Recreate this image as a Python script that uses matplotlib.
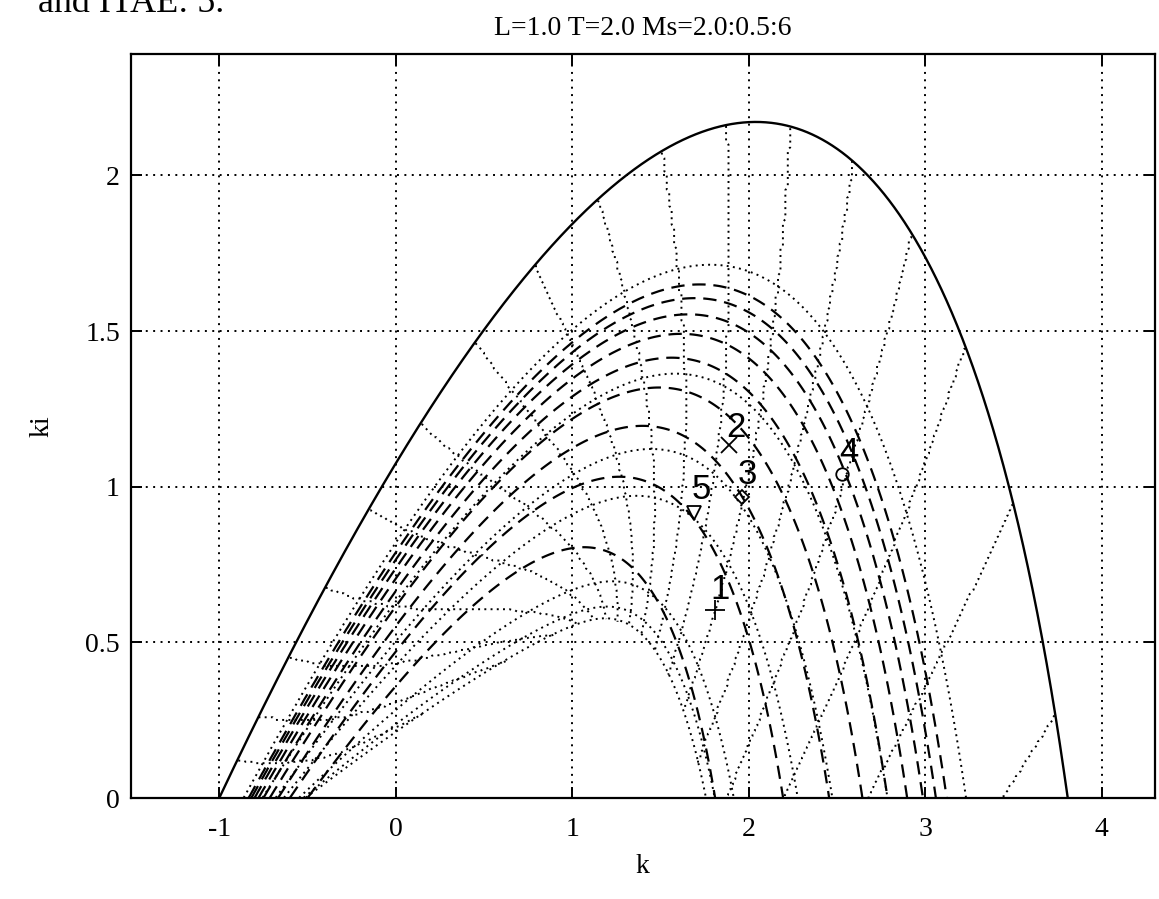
import numpy as np
import matplotlib
matplotlib.use('Agg')
import matplotlib.pyplot as plt
from matplotlib.path import Path
from matplotlib import font_manager

# Process and design data
L_delay = 1.0
T_lag = 2.0
ms_levels = [2.0, 2.5, 3.0, 3.5, 4.0, 4.5, 5.0, 5.5, 6.0]
# points lying on the dotted arcs (top of each arc)
arc_k = [1.60, 1.50, 1.40, 1.26, 1.06]
arc_ki = [1.70, 1.36, 1.12, 0.965, 0.68]
inner_arc_levels = [1.05, 1.10]
freq_lines = [0.2, 0.3, 0.4, 0.5, 0.6, 0.7, 0.8, 0.9, 1.0, 1.1, 1.2, 1.3, 1.4, 1.5, 1.6, 1.7, 1.8]
design_k = [1.81, 1.886, 1.96, 2.53, 1.69]
design_ki = [0.604, 1.134, 0.967, 1.04, 0.915]
design_markers = ['+', 'x', 'D', 'o', 'v']
design_sizes = [14, 11, 7, 9, 10]
design_labels = ['1', '2', '3', '4', '5']
label_k = [1.84, 1.93, 1.99, 2.57, 1.73]
label_ki = [0.67, 1.19, 1.04, 1.11, 0.99]
xticks = [-1, 0, 1, 2, 3, 4]
xtick_labels = ['-1', '0', '1', '2', '3', '4']
yticks = [0, 0.5, 1, 1.5, 2]
ytick_labels = ['0', '0.5', '1', '1.5', '2']

# stability boundary of PI + e^{-sL}/(1+sT)
wb = np.linspace(0, 2.2, 3000)
kb = -np.cos(wb*L_delay) + T_lag*wb*np.sin(wb*L_delay)
kib = wb*(np.sin(wb*L_delay) + T_lag*wb*np.cos(wb*L_delay))
end = np.where((kib[1:] < 0) & (wb[1:] > 0.5))[0][0] + 1
kb, kib = kb[:end+1], kib[:end+1]
kib[-1] = 0.0

# sensitivity maps
w = np.linspace(0.01, 4.0, 650)
G = np.exp(-1j*w*L_delay)/(1+1j*w*T_lag)
kk = np.linspace(-1.5, 4.3, 420)
ii = np.linspace(0.001, 2.39, 280)
K, I = np.meshgrid(kk, ii)
Ms = np.full(K.shape, np.nan); Mt = np.full(K.shape, np.nan); Wt = np.full(K.shape, np.nan)
poly = Path(np.column_stack([np.r_[kb, kb[0]], np.r_[kib, 0]]))
inside = poly.contains_points(np.column_stack([K.ravel(), I.ravel()])).reshape(K.shape)
for r in range(K.shape[0]):
    Lw = (K[r][:, None] + I[r][:, None]/(1j*w[None, :]))*G[None, :]
    S = np.abs(1/(1+Lw)); T = np.abs(Lw/(1+Lw))
    Ms[r] = S.max(1); Mt[r] = T.max(1); Wt[r] = w[T.argmax(1)]
Ms[~inside] = np.nan; Mt[~inside] = np.nan; Wt[~inside] = np.nan

def mt_at(k, ki):
    Lw = (k + ki/(1j*w))*G
    return np.abs(Lw/(1+Lw)).max()
mt_levels = sorted(inner_arc_levels + [mt_at(a, b) for a, b in zip(arc_k, arc_ki)])
Wt_m = np.where(Mt < 1.04, np.nan, Wt)

installed = {f.name for f in font_manager.fontManager.ttflist}
label_family = ['Liberation Sans Narrow', 'Liberation Sans'] if 'Liberation Sans Narrow' in installed else ['Liberation Sans']

plt.rcParams['font.family'] = ['Liberation Serif', 'DejaVu Serif']
plt.rcParams['axes.unicode_minus'] = False
fig = plt.figure(figsize=(11.59, 8.99), dpi=100)
px = 176.5
ax = fig.add_axes([131/1159, 1-798/899, 5.8*px/1159, (798-54)/899])

dot = (0, (1.0, 2.2))
ax.contour(K, I, Mt, levels=mt_levels, colors='k', linewidths=1.4, linestyles=[dot])
ax.contour(K, I, Wt_m, levels=freq_lines, colors='k', linewidths=1.4, linestyles=[dot])
ax.contour(K, I, Ms, levels=ms_levels, colors='k', linewidths=1.6, linestyles=[(0, (6, 3.5))])
ax.plot(kb, kib, 'k-', lw=1.7)

for k, ki, m, s in zip(design_k, design_ki, design_markers, design_sizes):
    ax.plot([k], [ki], marker=m, ms=s, mfc='none', mec='k', mew=1.3, ls='none')
for k, ki, t in zip(label_k, label_ki, design_labels):
    ax.text(k, ki, t, fontsize=25, ha='center', va='center', family=label_family)

ax.set_xlim(-1.5, 4.3)
ax.set_ylim(0, 2.39)
ax.set_xticks(xticks)
ax.set_xticklabels(xtick_labels)
ax.set_yticks(yticks)
ax.set_yticklabels(ytick_labels)
ax.tick_params(direction='in', length=8, width=1.4, top=True, right=True, labelsize=20)
ax.tick_params(axis='x', pad=14)
ax.tick_params(axis='y', pad=8)
ax.grid(True, color='k', linestyle=(0, (1.0, 2.8)), linewidth=1.4)
for sp in ax.spines.values():
    sp.set_linewidth(1.6)
ax.set_xlabel('k', fontsize=20, labelpad=8)
ax.set_ylabel('ki', fontsize=20, labelpad=22)
ax.set_title('L=1.0 T=2.0 Ms=2.0:0.5:6', fontsize=20, pad=14)
fig.text(38/1159, 1-12/899, 'and ITAE: 5.', fontsize=26, va='baseline', ha='left')
fig.savefig('out.png', dpi=100)
